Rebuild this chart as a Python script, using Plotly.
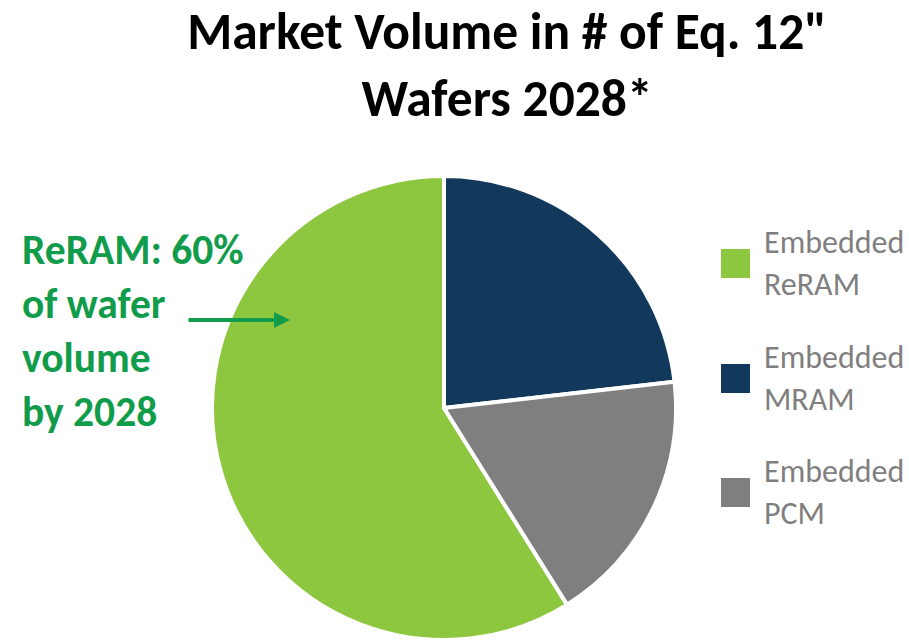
import plotly.graph_objects as go

# Data
labels = ["ReRAM", "MRAM", "PCM"]
legend_labels = ["Embedded<br>ReRAM", "Embedded<br>MRAM", "Embedded<br>PCM"]
values = [58.9, 23.2, 17.9]
colors = ["#8DC63F", "#12395C", "#7F7F7F"]

title_text = "Market Volume in # of Eq. 12\"<br>Wafers 2028*"
callout_text = "ReRAM: 60%<br>of wafer<br>volume<br>by 2028"

W, H = 909, 640
total = sum(values)
rotation = 360 * (1 - values[0] / total)

fig = go.Figure()
fig.add_trace(go.Pie(
    labels=labels,
    values=values,
    marker=dict(colors=colors, line=dict(color="white", width=4)),
    sort=False,
    direction="clockwise",
    rotation=rotation,
    textinfo="none",
    showlegend=False,
    domain=dict(x=[(444 - 232) / W, (444 + 232) / W], y=[0, 464 / H]),
))

font_family = "Carlito, Lato, sans-serif"

annotations = []
# Callout text
annotations.append(dict(
    x=20 / W, y=1 - 330 / H, xref="paper", yref="paper",
    xanchor="left", yanchor="middle", align="left", showarrow=False,
    text=callout_text,
    font=dict(family=font_family, size=41.5, color="#119C4B", weight="bold"),
))
# Arrow
annotations.append(dict(
    x=290 / W, y=1 - 320 / H, xref="paper", yref="paper",
    ax=-103, ay=0, text="", showarrow=True,
    arrowhead=2, arrowsize=0.8, arrowwidth=4, arrowcolor="#119C4B",
))

shapes = []
centers = [263.5, 378.5, 492.5]
for lab, col, cy in zip(legend_labels, colors, centers):
    shapes.append(dict(
        type="rect", xref="paper", yref="paper",
        x0=721 / W, x1=750 / W, y0=1 - (cy + 14.5) / H, y1=1 - (cy - 14.5) / H,
        fillcolor=col, line=dict(width=0),
    ))
    annotations.append(dict(
        x=762 / W, y=1 - cy / H, xref="paper", yref="paper",
        xanchor="left", yanchor="middle", align="left", showarrow=False,
        text=lab, font=dict(family=font_family, size=32, color="#7F7F7F"),
    ))

fig.update_layout(
    width=W, height=H,
    margin=dict(l=0, r=0, t=0, b=0),
    paper_bgcolor="white", plot_bgcolor="white",
    title=dict(
        text=title_text, x=507 / W, xanchor="center",
        y=1 - 49 / H, yanchor="top", yref="container",
        font=dict(family=font_family, size=51.5, color="black", weight="bold"),
    ),
    annotations=annotations,
    shapes=shapes,
)

fig.write_html("out.html", config={"displayModeBar": False},
               post_script="document.body.style.margin='0';")
